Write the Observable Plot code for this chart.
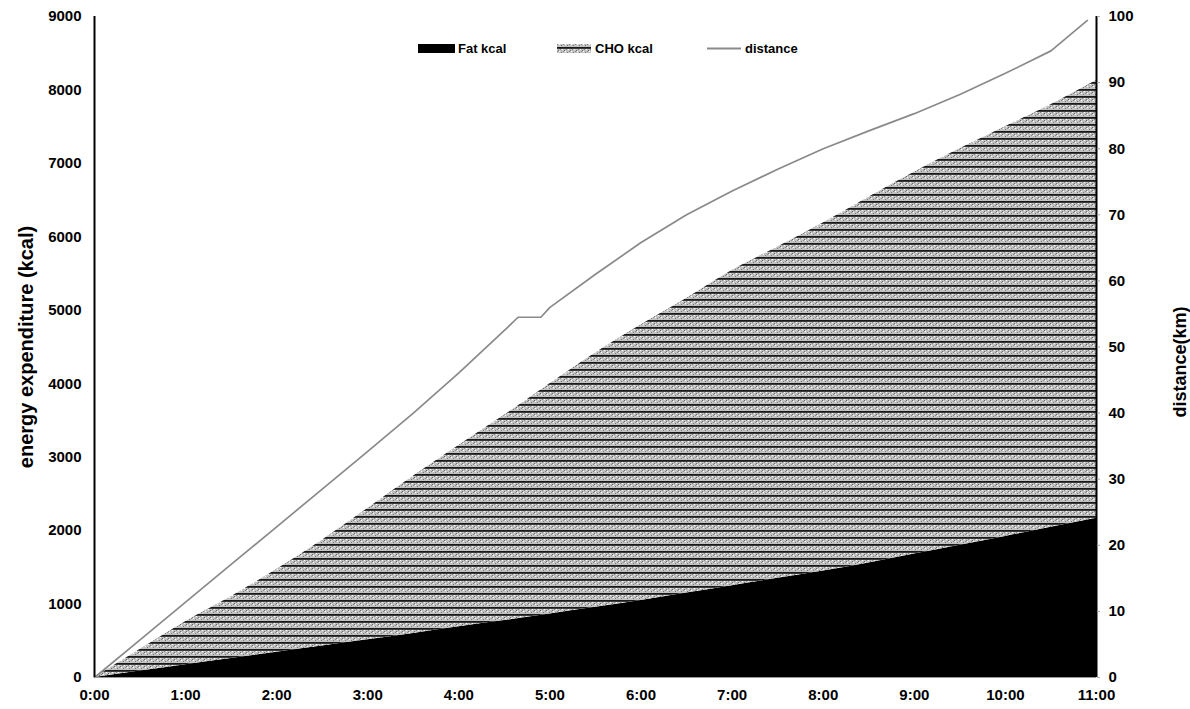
<!DOCTYPE html>
<html><head><meta charset="utf-8">
<script src="https://cdn.jsdelivr.net/npm/d3@7"></script>
<script src="https://cdn.jsdelivr.net/npm/@observablehq/plot@0.6"></script>
<style>
body{margin:0;background:#fff;}
#chart{position:relative;width:1190px;height:709px;}
#chart svg{font-family:"Liberation Sans",Arial,sans-serif;font-weight:bold;}
</style>
</head><body><div id="chart"></div>
<script>
// elapsed time (hours) for the energy series
const hours = [0,0.5,1,1.5,2,2.5,3,3.5,4,4.5,5,5.5,6,6.5,7,7.5,8,8.5,9,9.5,10,10.5,11];
// Fat kcal (cumulative)
const fatKcal = [0,88,175,260,345,430,515,600,690,775,865,955,1050,1150,1250,1350,1450,1560,1680,1800,1920,2045,2170];
// CHO kcal (cumulative, stacked on fat)
const choKcal = [0,292,585,840,1125,1440,1785,2140,2470,2795,3135,3465,3750,4010,4290,4510,4740,4980,5200,5400,5580,5755,5960];
// distance series
const distHours = [0,0.5,1,1.5,2,2.5,3,3.5,4,4.5,4.65,4.9,5,5.5,6,6.5,7,7.5,8,8.5,9,9.5,10,10.5,10.9];
const distanceKm = [0,5.7,11.4,17.1,22.8,28.5,34.2,40.0,46.1,52.5,54.5,54.5,56.0,61.0,65.8,70.0,73.6,76.9,80.0,82.7,85.3,88.2,91.4,94.8,99.4];
// ticks
const timeTicks = [0,1,2,3,4,5,6,7,8,9,10,11];
const kcalTicks = [0,1000,2000,3000,4000,5000,6000,7000,8000,9000];
const distTicks = [0,10,20,30,40,50,60,70,80,90,100];
const seriesNames = ["Fat kcal","CHO kcal","distance"];

const kcalMax = 9000, distMax = 100, k = kcalMax / distMax;

const energyRows = [];
hours.forEach((h,i)=>energyRows.push({time:h, series:seriesNames[0], kcal:fatKcal[i]}));
hours.forEach((h,i)=>energyRows.push({time:h, series:seriesNames[1], kcal:choKcal[i]}));
const distRows = distHours.map((h,i)=>({time:h, km:distanceKm[i]}));

const chart = Plot.plot({
  width:1190, height:709,
  marginLeft:94, marginRight:94, marginTop:16, marginBottom:32,
  x:{domain:[0,11]},
  y:{domain:[0,kcalMax]},
  color:{domain:[seriesNames[0],seriesNames[1]], range:["#000","url(#choPattern)"]},
  style:{fontSize:"15px", color:"#000", background:"#fff"},
  marks:[
    Plot.areaY(energyRows, {x:"time", y:"kcal", fill:"series", curve:"monotone-x"}),
    Plot.line(distRows, {x:"time", y:d=>d.km*k, stroke:"#8a8a8a", strokeWidth:1.7}),
    Plot.ruleY([0], {stroke:"#999", strokeWidth:1}),
    Plot.ruleX([0], {stroke:"#000", strokeWidth:2}),
    Plot.ruleX([11], {stroke:"#000", strokeWidth:2}),
    Plot.axisX(timeTicks, {tickSize:0, tickPadding:12, fontSize:15, tickFormat:d=>`${d}:00`, label:null}),
    Plot.axisY(kcalTicks, {anchor:"left", tickSize:0, tickPadding:13, fontSize:15, tickFormat:d=>String(d), label:null}),
    Plot.axisY(distTicks.map(d=>d*k), {anchor:"right", tickSize:3, stroke:"#aaa", tickPadding:9, fontSize:15, tickFormat:v=>String(Math.round(v/k)), label:null})
  ]
});

const svg = d3.select(chart);
svg.insert("defs", ":first-child").html(
  `<pattern id="choPattern" patternUnits="userSpaceOnUse" width="6" height="7">
     <rect width="6" height="7" fill="#c2c2c2"/>
     <rect x="0" y="1" width="1" height="1" fill="#666"/>
     <rect x="3" y="3" width="1" height="1" fill="#777"/>
     <rect x="5" y="2" width="1" height="1" fill="#888"/>
     <rect x="2" y="0" width="1" height="1" fill="#888"/>
     <rect x="1" y="2" width="1" height="1" fill="#fff"/>
     <rect x="4" y="0" width="1" height="1" fill="#fff"/>
     <rect y="5" width="6" height="1.8" fill="#1a1a1a"/>
   </pattern>`);

// axis titles
svg.append("text").attr("transform","translate(33,347) rotate(-90)")
  .attr("text-anchor","middle").attr("font-size",20).attr("font-weight","bold")
  .text("energy expenditure (kcal)");
svg.append("text").attr("transform","translate(1186,362) rotate(-90)")
  .attr("text-anchor","middle").attr("font-size",18).attr("font-weight","bold")
  .text("distance(km)");

// legend
const lg = svg.append("g").attr("font-size",13).attr("font-weight","bold").attr("text-anchor","start");
lg.append("rect").attr("x",418).attr("y",44).attr("width",37).attr("height",9).attr("fill","#000");
lg.append("text").attr("x",458).attr("y",53).text(seriesNames[0]);
lg.append("rect").attr("x",557).attr("y",44).attr("width",34).attr("height",9).attr("fill","url(#choPattern)");
lg.append("text").attr("x",595).attr("y",53).text(seriesNames[1]);
lg.append("line").attr("x1",707).attr("x2",741).attr("y1",48.5).attr("y2",48.5).attr("stroke","#8a8a8a").attr("stroke-width",2);
lg.append("text").attr("x",745).attr("y",53).text(seriesNames[2]);

document.getElementById("chart").appendChild(chart);
</script>
</body></html>
